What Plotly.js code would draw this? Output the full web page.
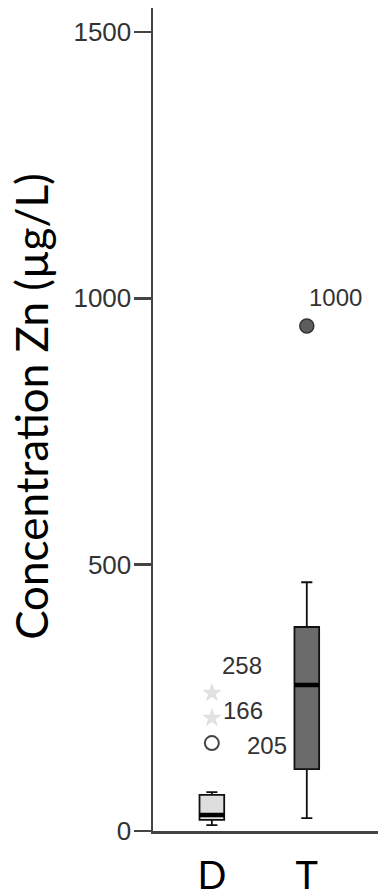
<!DOCTYPE html>
<html>
<head>
<meta charset="utf-8">
<script src="https://cdn.plot.ly/plotly-3.0.1.min.js"></script>
<style>html,body{margin:0;padding:0;background:#fff}#chart{width:378px;height:896px}</style>
</head>
<body>
<div id="chart"></div>
<script>
// Data
const groups = ['D', 'T'];
const q1 = [21, 116];
const median = [30, 274];
const q3 = [68, 383];
const lowerFence = [11, 24];
const upperFence = [73, 467];
const boxFill = ['#dedede', '#6b6b6b'];

const circleOutX = ['D'];
const circleOutY = [165];
const circleOutLabel = ['205'];
const starOutX = ['D', 'D'];
const starOutY = [212, 259];
const starOutLabel = ['166', '258'];
const dotOutX = ['T'];
const dotOutY = [948];
const dotOutLabel = ['1000'];

const yTicks = [0, 500, 1000, 1500];
const yTitle = 'Concentration Zn (µg/L)';

const traces = [];
groups.forEach((g, i) => {
  traces.push({
    type: 'box', x: [g], q1: [q1[i]], median: [median[i]], q3: [q3[i]],
    lowerfence: [lowerFence[i]], upperfence: [upperFence[i]],
    fillcolor: boxFill[i], line: {color: '#111', width: 1.8},
    width: 0.26, whiskerwidth: 0.45, boxpoints: false, showlegend: false, hoverinfo: 'skip'
  });
  // thick median line
  traces.push({
    type: 'box', x: [g], q1: [median[i]], median: [median[i]], q3: [median[i]],
    lowerfence: [median[i]], upperfence: [median[i]],
    fillcolor: 'rgba(0,0,0,0)', line: {color: '#000', width: 4.5},
    width: 0.26, whiskerwidth: 0, boxpoints: false, showlegend: false, hoverinfo: 'skip'
  });
});
traces.push({type: 'scatter', mode: 'markers', x: dotOutX, y: dotOutY, showlegend: false,
  marker: {symbol: 'circle', size: 14, color: '#5e5e5e', line: {color: '#333', width: 1.5}}});
traces.push({type: 'scatter', mode: 'markers', x: circleOutX, y: circleOutY, showlegend: false,
  marker: {symbol: 'circle-open', size: 14, color: '#444', line: {width: 2}}});
traces.push({type: 'scatter', mode: 'markers', x: starOutX, y: starOutY, showlegend: false,
  marker: {symbol: 'star', size: 13, color: '#e2e2e2', line: {color: '#d0d0d0', width: 0.5}}});

// label offsets (px) – positions only
const labelFont = {family: 'Liberation Sans, Arial, sans-serif', size: 24, color: '#333'};
const annotations = [];
function addLabels(xs, ys, labels, offs) {
  xs.forEach((x, i) => annotations.push({
    x: x, y: ys[i], xref: 'x', yref: 'y', text: labels[i], showarrow: false,
    xshift: offs[i][0], yshift: offs[i][1], font: labelFont
  }));
}
addLabels(dotOutX, dotOutY, dotOutLabel, [[29, 29]]);
addLabels(circleOutX, circleOutY, circleOutLabel, [[55, -2]]);
addLabels(starOutX, starOutY, starOutLabel, [[31, 8], [30, 28]]);

// y-axis title (rotated)
annotations.push({
  xref: 'paper', yref: 'paper', x: -0.54, y: 0.516, xanchor: 'center', yanchor: 'middle',
  text: yTitle, textangle: -90, showarrow: false,
  font: {family: 'Lato, sans-serif', size: 44, color: '#000'}
});

const layout = {
  width: 378, height: 896,
  margin: {l: 153, r: 0, t: 8, b: 65},
  paper_bgcolor: '#fff', plot_bgcolor: '#fff',
  showlegend: false,
  boxmode: 'overlay',
  xaxis: {
    type: 'category', range: [-0.62, 1.75], categoryorder: 'array', categoryarray: groups,
    showline: true, linecolor: '#444', linewidth: 2.5, ticks: '', showgrid: false, zeroline: false,
    tickfont: {family: 'Lato, sans-serif', size: 38, color: '#000'}, ticklabelstandoff: 10
  },
  xaxis2: {
    overlaying: 'x', anchor: 'y', type: 'linear', range: [-0.62, 1.75],
    tickvals: [0.5], ticks: 'outside', ticklen: 16, tickwidth: 2.5, tickcolor: '#444',
    showticklabels: false, showgrid: false, zeroline: false, showline: false, side: 'bottom'
  },
  yaxis: {
    range: [0, 1545], tickvals: yTicks, ticks: 'outside', ticklen: 17, tickwidth: 2.5, tickcolor: '#444',
    showline: true, linecolor: '#444', linewidth: 2.5, showgrid: false, zeroline: false,
    tickfont: {family: 'Liberation Sans, Arial, sans-serif', size: 26, color: '#333'},
    ticklabelstandoff: -3,
    automargin: false
  },
  annotations: annotations
};

Plotly.newPlot('chart', traces, layout, {staticPlot: true, displayModeBar: false});
</script>
</body>
</html>
